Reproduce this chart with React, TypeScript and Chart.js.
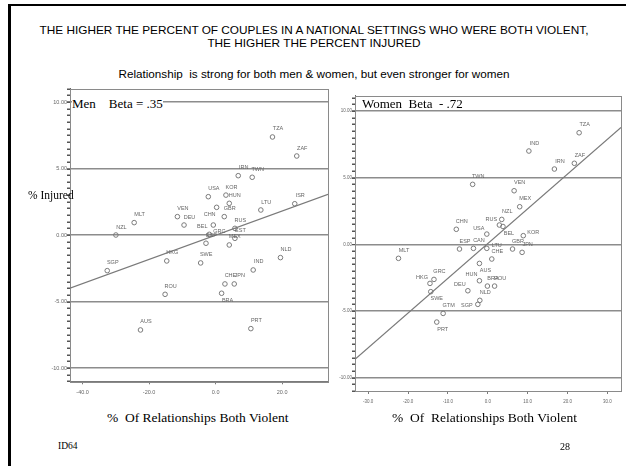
import React, { useEffect, useRef } from 'react';
import { Chart, registerables } from 'chart.js';
Chart.register(...registerables);

// ---------- DATA ----------
const menCountries = ['NZL','MLT','VEN','DEU','CHN','USA','KOR','HUN','GBR','IRN','TWN','TZA','ZAF','ISR','LTU','BEL','GRC','RUS','EST','ESP','MEX','HKG','SWE','IND','CHE','JPN','BRA','NLD','PRT','SGP','ROU','AUS'];
const menViolent = [-30.0,-24.5,-11.5,-9.5,0.3,-2.2,3.1,4.1,2.6,6.8,11.0,17.1,24.4,23.8,13.6,-0.7,-1.9,5.8,5.8,-2.9,4.1,-14.7,-4.5,11.3,2.8,5.6,1.8,19.5,10.6,-32.6,-15.2,-22.6];
const menInjured = [0.0,0.93,1.38,0.75,2.08,2.88,3.0,2.38,1.38,4.46,4.34,7.37,5.94,2.35,1.88,0.75,0.05,0.5,-0.25,-0.62,-0.75,-1.95,-2.1,-2.63,-3.68,-3.68,-4.38,-1.7,-7.04,-2.68,-4.46,-7.14];
const menLabelPos = ['ne','ne','ne','ne','sw','ne','ne','ne','ne','ne','ne','ne','ne','ne','ne','w','e','ne','ne','ne','ne','ne','ne','ne','ne','ne','se','ne','ne','ne','ne','ne'];
const menFitX = [-43.8, 33.8];
const menFitY = [-4.0, 3.06];
const menXTicks = [-40, -20, 0, 20];

const womenCountries = ['TZA','IND','IRN','ZAF','TWN','VEN','MEX','NZL','RUS','BEL','USA','CHN','KOR','JPN','GBR','ESP','CAN','LTU','CHE','MLT','AUS','HUN','BRA','ROU','DEU','NLD','SGP','GRC','HKG','SWE','GTM','PRT'];
const womenViolent = [22.9,10.3,16.7,21.7,-3.8,6.6,8.0,3.5,2.9,3.8,-0.25,-7.9,8.9,8.6,6.2,-7.1,-3.6,-0.25,1.0,-22.4,-2.1,-2.1,-0.1,1.7,-5.0,-2.0,-2.5,-13.5,-14.5,-14.3,-11.2,-12.8];
const womenInjured = [8.37,7.0,5.65,6.08,4.5,4.02,2.82,1.87,1.45,1.34,0.77,1.13,0.65,-0.6,-0.35,-0.35,-0.3,-0.3,-1.1,-1.05,-1.43,-2.73,-3.13,-3.13,-3.48,-4.2,-4.5,-2.63,-2.93,-3.55,-5.18,-5.83];
const womenLabelPos = ['ne','ne','ne','ne','ne','ne','ne','ne','nw','se','nw','ne','e','ne','ne','ne','ne','e','ne','ne','se','nw','ne','ne','nw','ne','w','ne','nw','se','ne','se'];
const womenFitX = [-33.3, 33.4];
const womenFitY = [-8.63, 8.77];
const womenXTicks = [-30, -20, -10, 0, 10, 20, 30];

const yMajor = [-10, -5, 0, 5, 10];

const OFFSETS: Record<string, [number, number]> = {
  ne: [5.5, -8], se: [6, 7], nw: [-8, -6], w: [-11, 1], e: [10, -3], sw: [-7, 7],
};

type PanelProps = {
  left: number; top: number; width: number; height: number;
  xs: number[]; ys: number[]; names: string[]; pos: string[];
  fitX: number[]; fitY: number[];
  xMin: number; xMax: number; yMin: number; yMax: number; xTicks: number[];
  yAxisW: number; xAxisH: number; padTop: number; padRight: number;
  yFont: number; xFont: number; xPad: number;
};

function Panel(p: PanelProps) {
  const ref = useRef<HTMLCanvasElement>(null);
  useEffect(() => {
    const yTicks: number[] = [];
    for (let v = Math.ceil(p.yMin * 2) / 2; v <= p.yMax + 1e-9; v += 0.5) yTicks.push(Math.round(v * 10) / 10);
    const isMajor = (v: number) => yMajor.some((m) => Math.abs(m - v) < 1e-6);
    const labelPlugin = {
      id: 'ptLabels',
      afterDatasetsDraw(chart: any) {
        const meta = chart.getDatasetMeta(0);
        const ctx = chart.ctx;
        ctx.save();
        ctx.font = '5.5px "Liberation Sans", Arial, sans-serif';
        ctx.fillStyle = '#666';
        ctx.textAlign = 'center';
        ctx.textBaseline = 'middle';
        meta.data.forEach((el: any, i: number) => {
          const o = OFFSETS[p.pos[i]] || OFFSETS.ne;
          ctx.fillText(p.names[i], el.x + o[0], el.y + o[1]);
        });
        ctx.restore();
      },
    };
    const framePlugin = {
      id: 'frame',
      beforeDatasetsDraw(chart: any) {
        const a = chart.chartArea;
        const ctx = chart.ctx;
        ctx.save();
        ctx.strokeStyle = '#8a8a8a';
        ctx.lineWidth = 1;
        ctx.strokeRect(Math.round(a.left) + 0.5, Math.round(a.top) + 0.5, Math.round(a.right - a.left), Math.round(a.bottom - a.top));
        // minor tick marks on the y axis
        const ys = chart.scales.y;
        ctx.strokeStyle = '#555';
        ctx.beginPath();
        const lx = Math.round(a.left);
        yTicks.forEach((v) => {
          const py = Math.round(ys.getPixelForValue(v)) + 0.5;
          ctx.moveTo(lx - 3, py);
          ctx.lineTo(lx, py);
        });
        ctx.stroke();
        ctx.restore();
      },
    };
    const chart = new Chart(ref.current as HTMLCanvasElement, {
      type: 'scatter',
      data: {
        datasets: [
          {
            data: p.xs.map((x, i) => ({ x, y: p.ys[i] })),
            pointRadius: 2.3,
            pointBorderWidth: 1,
            pointBorderColor: '#7a7a7a',
            pointBackgroundColor: 'rgba(255,255,255,0)',
            showLine: false,
          } as any,
          {
            data: p.fitX.map((x, i) => ({ x, y: p.fitY[i] })),
            showLine: true,
            borderColor: '#7a7a7a',
            borderWidth: 1.2,
            pointRadius: 0,
            fill: false,
          } as any,
        ],
      },
      options: {
        animation: false,
        responsive: false,
        devicePixelRatio: 1,
        layout: { padding: { top: p.padTop, right: p.padRight, left: 0, bottom: 0 } },
        plugins: { legend: { display: false }, tooltip: { enabled: false } },
        scales: {
          x: {
            type: 'linear',
            min: p.xMin,
            max: p.xMax,
            afterBuildTicks: (s: any) => { s.ticks = p.xTicks.map((v) => ({ value: v })); },
            afterFit: (s: any) => { s.height = p.xAxisH; },
            grid: { drawOnChartArea: false, drawTicks: true, tickLength: 3, tickColor: '#7a7a7a', tickWidth: 1 },
            border: { display: true, color: '#7a7a7a', width: 1 },
            ticks: {
              autoSkip: false, maxRotation: 0, padding: p.xPad, color: '#666',
              font: { size: p.xFont, family: '"Liberation Sans", Arial, sans-serif' },
              callback: (v: any) => Number(v).toFixed(1),
            },
          },
          y: {
            type: 'linear',
            min: p.yMin,
            max: p.yMax,
            afterBuildTicks: (s: any) => { s.ticks = yTicks.map((v) => ({ value: v })); },
            afterFit: (s: any) => { s.width = p.yAxisW; },
            grid: {
              drawOnChartArea: true,
              drawTicks: true,
              tickLength: 3,
              tickWidth: 1,
              tickColor: '#555',
              color: (c: any) => (c.tick && isMajor(c.tick.value) ? '#8c8c8c' : 'rgba(0,0,0,0)'),
              lineWidth: (c: any) => (c.tick && isMajor(c.tick.value) ? 1.5 : 0),
            },
            border: { display: true, color: '#6a6a6a', width: 1 },
            ticks: {
              autoSkip: false, padding: 0, color: '#666',
              font: { size: p.yFont, family: '"Liberation Sans", Arial, sans-serif' },
              callback: (v: any) => (isMajor(Number(v)) ? Number(v).toFixed(2) : ''),
            },
          },
        },
      } as any,
      plugins: [framePlugin, labelPlugin],
    });
    return () => chart.destroy();
  }, []);
  return (
    <canvas
      ref={ref}
      width={p.width}
      height={p.height}
      style={{ position: 'absolute', left: p.left, top: p.top, width: p.width, height: p.height }}
    />
  );
}

const serif = '"Liberation Serif", "Times New Roman", serif';
const sans = '"Liberation Sans", Arial, sans-serif';

function Txt(props: { x: number; y: number; size: number; font: string; text: string; center?: boolean; bg?: string }) {
  const { x, y, size, font, text, center, bg } = props;
  return (
    <div
      style={{
        position: 'absolute',
        left: center ? x - 400 : x,
        width: center ? 800 : undefined,
        textAlign: center ? 'center' : 'left',
        top: y - size * 0.6,
        fontSize: size,
        lineHeight: `${size * 1.2}px`,
        fontFamily: font,
        whiteSpace: 'pre',
        color: '#000',
        background: bg,
      }}
    >
      {text}
    </div>
  );
}

export default function App() {
  return (
    <div style={{ position: 'absolute', left: 0, top: 0, width: 626, height: 466, background: '#fff', overflow: 'hidden' }}>
      {/* slide border */}
      <div style={{ position: 'absolute', left: 8, top: 4, width: 618, height: 2, background: '#000' }} />
      <div style={{ position: 'absolute', left: 8, top: 4, width: 3, height: 470, background: '#000' }} />

      <Txt x={314} y={30} size={11.8} font={sans} center text="THE HIGHER THE PERCENT OF COUPLES IN A NATIONAL SETTINGS WHO WERE BOTH VIOLENT," />
      <Txt x={314} y={43} size={11.8} font={sans} center text="THE HIGHER THE PERCENT INJURED" />
      <Txt x={314} y={74} size={11.7} font={sans} center text="Relationship  is strong for both men & women, but even stronger for women" />

      <Panel
        left={20} top={80} width={320} height={325}
        xs={menViolent} ys={menInjured} names={menCountries} pos={menLabelPos}
        fitX={menFitX} fitY={menFitY}
        xMin={-43.8} xMax={33.8} yMin={-11.0} yMax={11.0} xTicks={menXTicks}
        yAxisW={50} xAxisH={23.7} padTop={8.7} padRight={12}
        yFont={5.5} xFont={5.5} xPad={5}
      />
      <Panel
        left={336} top={85} width={290} height={325}
        xs={womenViolent} ys={womenInjured} names={womenCountries} pos={womenLabelPos}
        fitX={womenFitX} fitY={womenFitY}
        xMin={-33.3} xMax={33.4} yMin={-11.0} yMax={11.15} xTicks={womenXTicks}
        yAxisW={19} xAxisH={19} padTop={10.7} padRight={2}
        yFont={4.5} xFont={4.5} xPad={5.4}
      />

      <Txt x={72} y={104} size={13} font={serif} bg="#fff" text={'Men    Beta = .35'} />
      <Txt x={362} y={104} size={13} font={serif} text={'Women  Beta  - .72'} />
      <Txt x={28} y={196} size={11.5} font={serif} text="% Injured" />
      <Txt x={107} y={418} size={13.5} font={serif} text={'%  Of Relationships Both Violent'} />
      <Txt x={392} y={418} size={13.5} font={serif} text={'%  Of  Relationships Both Violent'} />
      <Txt x={58} y={447} size={9.5} font={serif} text="ID64" />
      <Txt x={560} y={447} size={10} font={serif} text="28" />
    </div>
  );
}
